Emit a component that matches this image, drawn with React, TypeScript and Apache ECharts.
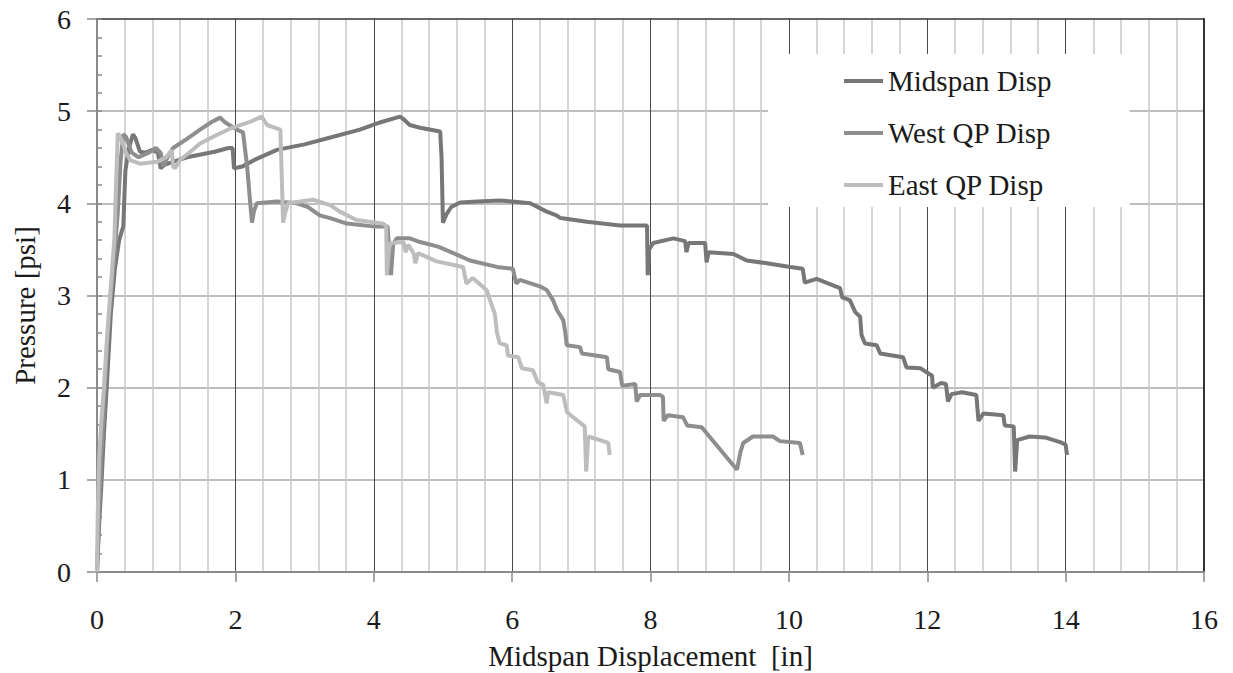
import React, { useEffect, useRef } from "react";
import * as echarts from "echarts";

const seriesNames = ["Midspan Disp", "West QP Disp", "East QP Disp"];
const seriesColors = ["#777777", "#8e8e8e", "#bdbdbd"];

const xTitle = "Midspan Displacement  [in]";
const yTitle = "Pressure [psi]";

const midspan: [number, number][] = [
  [0, 0], [0.03, 0.5], [0.06, 0.9], [0.1, 1.5], [0.14, 2.0], [0.2, 2.8], [0.26, 3.3], [0.32, 3.6],
  [0.38, 3.75], [0.41, 4.35], [0.46, 4.6], [0.52, 4.75], [0.56, 4.7], [0.62, 4.56], [0.7, 4.55],
  [0.8, 4.58], [0.88, 4.55], [0.92, 4.38], [0.98, 4.42], [1.1, 4.45], [1.3, 4.5], [1.5, 4.53],
  [1.7, 4.56], [1.9, 4.6], [1.96, 4.6], [1.98, 4.38], [2.1, 4.4], [2.3, 4.48], [2.6, 4.58],
  [3.0, 4.64], [3.4, 4.72], [3.8, 4.8], [4.1, 4.88], [4.38, 4.94], [4.42, 4.92], [4.52, 4.85],
  [4.67, 4.82], [4.96, 4.78], [4.98, 4.5], [5.0, 3.79], [5.05, 3.88], [5.12, 3.96], [5.25, 4.01],
  [5.5, 4.02], [5.82, 4.03], [6.0, 4.02], [6.26, 4.0], [6.5, 3.91], [6.64, 3.87], [6.7, 3.84],
  [7.08, 3.8], [7.56, 3.76], [7.95, 3.76], [7.96, 3.22], [7.98, 3.5], [8.04, 3.57], [8.33, 3.62],
  [8.5, 3.59], [8.52, 3.47], [8.55, 3.57], [8.79, 3.57], [8.81, 3.36], [8.84, 3.47], [9.2, 3.45],
  [9.39, 3.38], [9.68, 3.35], [10.02, 3.31], [10.2, 3.29], [10.23, 3.14], [10.4, 3.18],
  [10.74, 3.08], [10.77, 2.98], [10.88, 2.95], [10.96, 2.82], [11.03, 2.77], [11.05, 2.57],
  [11.1, 2.48], [11.27, 2.46], [11.32, 2.37], [11.65, 2.33], [11.7, 2.22], [11.9, 2.21],
  [12.07, 2.13], [12.08, 2.0], [12.2, 2.05], [12.27, 2.04], [12.3, 1.85], [12.35, 1.93],
  [12.5, 1.95], [12.71, 1.92], [12.74, 1.64], [12.81, 1.72], [13.1, 1.7], [13.12, 1.59],
  [13.25, 1.58], [13.27, 1.09], [13.3, 1.43], [13.48, 1.47], [13.7, 1.46], [13.92, 1.41],
  [14.0, 1.38], [14.02, 1.27],
];

const westQP: [number, number][] = [
  [0, 0], [0.03, 0.6], [0.06, 1.2], [0.1, 1.8], [0.15, 2.5], [0.2, 3.0], [0.26, 3.5], [0.3, 3.9],
  [0.34, 4.45], [0.38, 4.75], [0.42, 4.72], [0.5, 4.55], [0.6, 4.5], [0.75, 4.55], [0.85, 4.6],
  [0.92, 4.55], [0.96, 4.4], [1.02, 4.5], [1.1, 4.6], [1.3, 4.7], [1.49, 4.8], [1.65, 4.88],
  [1.78, 4.93], [1.85, 4.88], [2.02, 4.8], [2.11, 4.77], [2.17, 4.4], [2.21, 4.04], [2.24, 3.79],
  [2.27, 3.92], [2.31, 4.0], [2.6, 4.02], [2.89, 4.0], [3.05, 3.96], [3.22, 3.87], [3.37, 3.84],
  [3.61, 3.78], [3.99, 3.75], [4.2, 3.75], [4.25, 3.22], [4.28, 3.55], [4.33, 3.62], [4.52, 3.62],
  [4.67, 3.58], [4.93, 3.53], [5.15, 3.46], [5.39, 3.38], [5.78, 3.31], [6.01, 3.29], [6.06, 3.13],
  [6.11, 3.17], [6.4, 3.1], [6.5, 3.06], [6.59, 2.95], [6.65, 2.84], [6.74, 2.73], [6.77, 2.59],
  [6.79, 2.46], [6.98, 2.44], [7.01, 2.37], [7.37, 2.33], [7.39, 2.2], [7.56, 2.17], [7.59, 2.02],
  [7.78, 2.04], [7.8, 1.85], [7.85, 1.92], [8.14, 1.92], [8.18, 1.9], [8.19, 1.64], [8.25, 1.7],
  [8.47, 1.68], [8.53, 1.59], [8.74, 1.57], [9.25, 1.11], [9.3, 1.3], [9.34, 1.4], [9.48, 1.47],
  [9.77, 1.47], [9.87, 1.42], [10.16, 1.4], [10.2, 1.27],
];

const eastQP: [number, number][] = [
  [0, 0], [0.01, 0.6], [0.03, 1.2], [0.06, 1.6], [0.1, 2.0], [0.15, 2.6], [0.2, 3.1], [0.25, 3.6],
  [0.28, 4.3], [0.3, 4.76], [0.35, 4.7], [0.42, 4.55], [0.48, 4.47], [0.62, 4.43], [0.87, 4.45],
  [1.0, 4.5], [1.08, 4.58], [1.1, 4.4], [1.13, 4.38], [1.2, 4.47], [1.35, 4.56], [1.49, 4.65],
  [1.7, 4.73], [1.92, 4.81], [2.2, 4.88], [2.38, 4.94], [2.46, 4.85], [2.65, 4.8], [2.67, 4.3],
  [2.69, 3.79], [2.72, 3.9], [2.76, 4.0], [3.12, 4.04], [3.37, 3.98], [3.51, 3.91], [3.75, 3.82],
  [4.14, 3.78], [4.18, 3.75], [4.19, 3.22], [4.22, 3.5], [4.24, 3.57], [4.43, 3.58], [4.46, 3.47],
  [4.5, 3.55], [4.58, 3.45], [4.6, 3.35], [4.64, 3.46], [4.91, 3.37], [5.29, 3.31], [5.34, 3.13],
  [5.43, 3.19], [5.63, 3.06], [5.68, 2.95], [5.75, 2.8], [5.78, 2.6], [5.82, 2.48], [5.92, 2.46],
  [5.94, 2.35], [6.09, 2.33], [6.14, 2.21], [6.3, 2.19], [6.37, 2.06], [6.45, 2.03], [6.5, 1.83],
  [6.52, 1.95], [6.74, 1.92], [6.79, 1.74], [6.88, 1.68], [7.05, 1.58], [7.07, 1.09], [7.1, 1.47],
  [7.27, 1.43], [7.39, 1.4], [7.41, 1.27],
];

const seriesData = [midspan, westQP, eastQP];

export default function App() {
  const ref = useRef<HTMLDivElement>(null);
  useEffect(() => {
    const chart = echarts.init(ref.current!, null, { renderer: "svg" });
    const font = "Liberation Serif";
    const textColor = "#1a1a1a";
    chart.setOption({
      animation: false,
      backgroundColor: "#ffffff",
      textStyle: { fontFamily: font },
      grid: { left: 97, right: 29, top: 19, bottom: 101, containLabel: false, outerBoundsMode: "none" },
      legend: {
        data: seriesNames,
        orient: "vertical",
        left: 768,
        top: 54,
        backgroundColor: "#ffffff",
        padding: [12, 78, 7, 76],
        itemGap: 22,
        itemWidth: 39,
        itemHeight: 4,
        icon: "rect",
        textStyle: { fontSize: 29, lineHeight: 30, color: textColor, fontFamily: font },
      },
      xAxis: [
        {
          type: "value",
          min: 0,
          max: 16,
          interval: 2,
          position: "bottom",
          axisLine: { show: true, onZero: false, lineStyle: { color: "#8a8a8a", width: 2 } },
          axisTick: { show: true, length: 10, lineStyle: { color: "#8a8a8a", width: 1.5 } },
          axisLabel: { fontSize: 28, color: textColor, margin: 33, fontFamily: font },
          splitLine: { show: true, showMinLine: false, showMaxLine: false, lineStyle: { color: "#4a4a4a", width: 1 } },
          minorTick: { show: false, splitNumber: 5 },
          minorSplitLine: { show: true, lineStyle: { color: "#c8c8c8", width: 1.5 } },
          name: xTitle,
          nameLocation: "middle",
          nameGap: 69,
          nameTextStyle: { fontSize: 29, color: textColor, fontFamily: font },
        },
        {
          type: "value",
          min: 0,
          max: 16,
          position: "top",
          axisLine: { show: true, onZero: false, lineStyle: { color: "#333333", width: 1.5 } },
          axisTick: { show: false },
          axisLabel: { show: false },
          splitLine: { show: false },
        },
      ],
      yAxis: [
        {
          type: "value",
          min: 0,
          max: 6,
          interval: 1,
          position: "left",
          axisLine: { show: true, onZero: false, lineStyle: { color: "#8a8a8a", width: 2 } },
          axisTick: { show: true, length: 10, lineStyle: { color: "#8a8a8a", width: 1.5 } },
          axisLabel: { fontSize: 28, color: textColor, margin: 26, fontFamily: font },
          splitLine: { show: true, showMinLine: false, showMaxLine: false, lineStyle: { color: "#a8a8a8", width: 1.5 } },
          name: yTitle,
          nameLocation: "middle",
          nameGap: 58,
          nameRotate: 90,
          nameTextStyle: { fontSize: 29, color: textColor, fontFamily: font, padding: [0, 20, 0, 0] },
        },
        {
          type: "value",
          min: 0,
          max: 6,
          interval: 0.2,
          position: "left",
          axisLine: { show: false },
          axisTick: { show: true, inside: true, length: 5, lineStyle: { color: "#8a8a8a", width: 1.5 } },
          axisLabel: { show: false },
          splitLine: { show: false },
        },
        {
          type: "value",
          min: 0,
          max: 6,
          position: "right",
          axisLine: { show: true, onZero: false, lineStyle: { color: "#333333", width: 2 } },
          axisTick: { show: false },
          axisLabel: { show: false },
          splitLine: { show: false },
        },
      ],
      series: seriesNames.map((name, i) => ({
        name,
        type: "line",
        xAxisIndex: 0,
        yAxisIndex: 0,
        data: seriesData[i],
        showSymbol: false,
        symbol: "none",
        lineStyle: { color: seriesColors[i], width: 4 },
        itemStyle: { color: seriesColors[i] },
        z: 3 + i,
      })),
    });
    return () => chart.dispose();
  }, []);
  return (
    <div
      ref={ref}
      style={{ position: "absolute", left: 0, top: 0, width: 1233, height: 673 }}
    />
  );
}
